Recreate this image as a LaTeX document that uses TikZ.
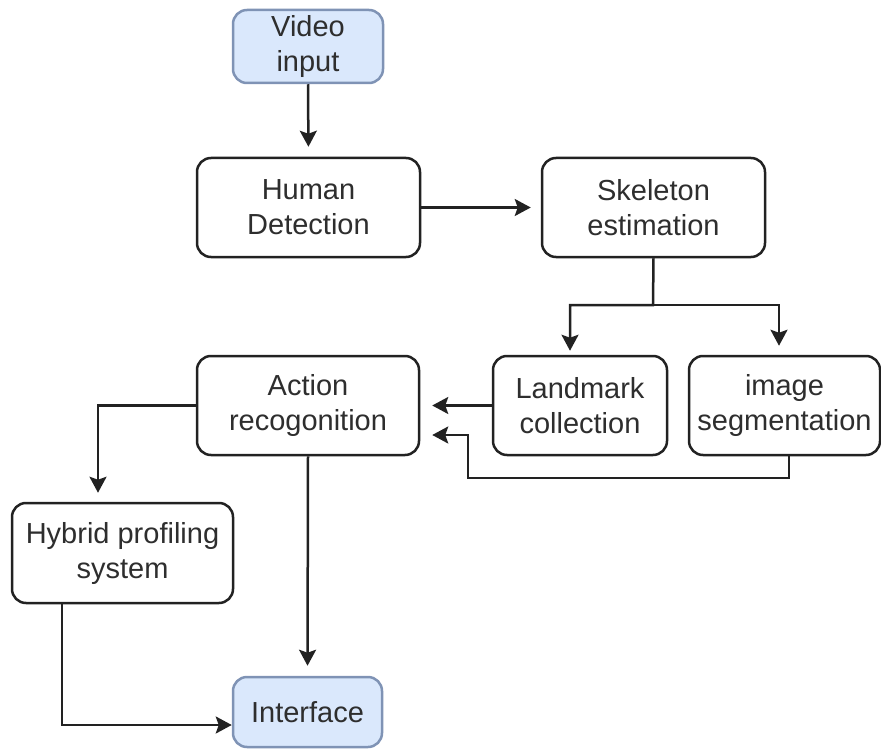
\documentclass[tikz,border=0pt]{standalone}
\usepackage{fontspec}
\setmainfont{Liberation Sans}
\usetikzlibrary{arrows.meta}
\definecolor{inkline}{HTML}{222222}
\definecolor{inktext}{HTML}{2E2E2E}
\definecolor{ioFill}{HTML}{DAE8FC}
\definecolor{ioDraw}{HTML}{7F93B5}
\tikzset{
  stage/.style={draw=inkline, line width=2.5pt, rounded corners=14pt, fill=white,
    align=center, text=inktext, inner sep=0pt,
    font=\fontsize{29}{35}\selectfont},
  iobox/.style={stage, fill=ioFill, draw=ioDraw},
  arr/.style={draw=inkline, line width=2.5pt,
    -{Stealth[length=16pt,width=17pt,inset=3pt]}},
}
\begin{document}
\begin{tikzpicture}[x=1pt,y=-1pt]
\useasboundingbox (0,0) rectangle (881,749);

% process boxes
\node[iobox, minimum width=150pt, minimum height=73pt] (vid) at (308,46.5) {Video\\input};
\node[stage, minimum width=223pt, minimum height=99pt] (hd) at (308.5,207.5) {Human\\Detection};
\node[stage, minimum width=223pt, minimum height=99pt] (sk) at (653.5,207.5) {Skeleton\\estimation};
\node[stage, minimum width=174pt, minimum height=99pt] (lm) at (580,405.5) {Landmark\\collection};
\node[stage, minimum width=191pt, minimum height=99pt] (seg) at (784.5,405.5) {image\\segmentation};
\node[stage, minimum width=222pt, minimum height=99pt] (ar) at (308,405.5) {Action\\recogonition};
\node[stage, minimum width=221pt, minimum height=100pt] (hy) at (122.5,553) {Hybrid profiling\\system};
\node[iobox, minimum width=149pt, minimum height=70pt] (if) at (307.5,712) {Interface};

% bend points of the elbow connectors
\coordinate (split) at (653,305);
\coordinate (lmin) at (570,305);
\coordinate (segin) at (779,305);
\coordinate (s1) at (789,478);
\coordinate (s2) at (468,478);
\coordinate (s3) at (468,435);
\coordinate (hyin) at (98,405.5);
\coordinate (hyout) at (62,725);

% connectors
\draw[arr, shorten >=10pt] (vid.south) -- (hd.north);
\draw[arr, shorten >=10pt] (hd.east) -- (sk.west);
\draw[arr, shorten >=4pt] (sk.south) -- (split) -- (lmin) -- (lmin |- lm.north);
\draw[arr, shorten >=9pt] (split) -- (segin) -- (segin |- seg.north);
\draw[arr, shorten >=12pt] (lm.west) -- (ar.east);
\draw[arr, shorten >=12pt] (s1 |- seg.south) -- (s1) -- (s2) -- (s3) -- (s3 -| ar.east);
\draw[arr, shorten >=9pt] (ar.west) -- (hyin) -- (hyin |- hy.north);
\draw[arr, shorten >=10pt] (ar.south) -- (if.north);
\draw[arr] (hyout |- hy.south) -- (hyout) -- (hyout -| if.west);
\end{tikzpicture}
\end{document}
